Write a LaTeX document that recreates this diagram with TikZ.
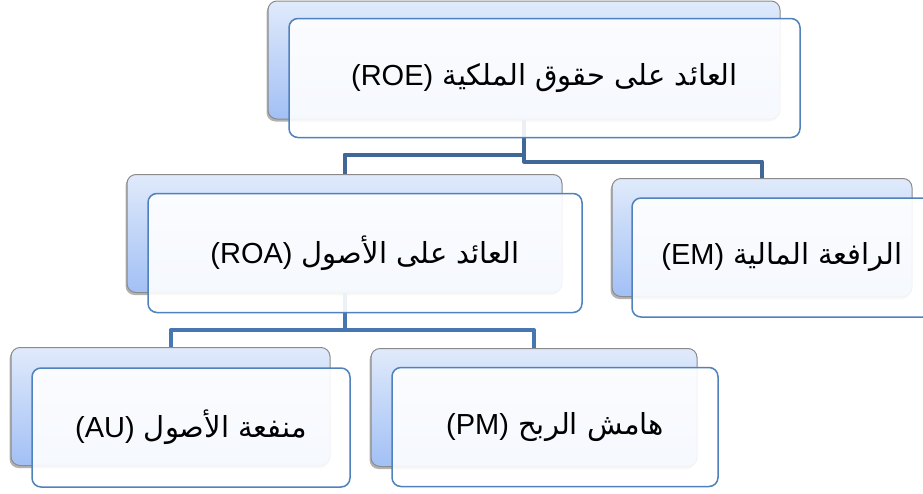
\documentclass[tikz,border=0pt]{standalone}
\usepackage{fontspec}
\setmainfont{Liberation Sans}
\newfontfamily\arabicfont[Script=Arabic]{DejaVu Sans}
\TeXXeTstate=1
\usetikzlibrary{shadows}
\definecolor{backtop}{HTML}{E0EAFB}
\definecolor{backbot}{HTML}{A2C0F5}
\definecolor{backedge}{HTML}{8A8A8A}
\definecolor{frontedge}{HTML}{4F81BD}
\definecolor{connA}{HTML}{3F6899}
\definecolor{connB}{HTML}{4776B0}
\tikzset{
  backbox/.style={draw=backedge, line width=1pt, rounded corners=9pt,
    top color=backtop, bottom color=backbot, minimum height=118pt, inner sep=0pt,
    drop shadow={shadow xshift=-1.5pt, shadow yshift=-2.5pt, fill=black, opacity=0.3}},
  frontbox/.style={draw=frontedge, line width=1.5pt, rounded corners=9pt,
    fill=white, fill opacity=0.9, text opacity=1, minimum height=119pt, inner sep=0pt,
    font=\fontsize{29}{34}\selectfont},
  conn/.style={line width=4pt, line join=round},
}
\newcommand{\artext}[2]{\arabicfont\beginR #1 \beginL{\rmfamily (#2)}\endL\endR}
\begin{document}
\begin{tikzpicture}[x=1pt,y=-1pt]
\clip (0,0) rectangle (923,493);
% back boxes
\node[backbox, minimum width=512pt] (roeB) at (524,60) {};
\node[backbox, minimum width=435pt] (roaB) at (344.5,233.5) {};
\node[backbox, minimum width=300pt] (emB) at (762,237.5) {};
\node[backbox, minimum width=319pt] (auB) at (170.5,406.5) {};
\node[backbox, minimum width=326pt] (pmB) at (534,407.5) {};
% connectors
\draw[conn, connA] (roeB.south) -- ++(0,35) -| (roaB.north);
\draw[conn, connA] (roeB.south) -- ++(0,42) -| (emB.north);
\draw[conn, connB] (roaB.south) -- ++(0,37) -| (auB.north);
\draw[conn, connB] (roaB.south) -- ++(0,37) -| (pmB.north);
% front boxes
\node[frontbox, minimum width=511pt] (roe) at (544.5,78) {\artext{العائد على حقوق الملكية}{ROE}};
\node[frontbox, minimum width=434pt] (roa) at (365,253) {\artext{العائد على الأصول}{ROA}};
\node[frontbox, minimum width=300pt] (em) at (782,257.5) {\artext{الرافعة المالية}{EM}};
\node[frontbox, minimum width=318pt] (au) at (191,427.5) {\artext{منفعة الأصول}{AU}};
\node[frontbox, minimum width=326pt] (pm) at (555,427) {\artext{هامش الربح}{PM}};
\end{tikzpicture}
\end{document}
